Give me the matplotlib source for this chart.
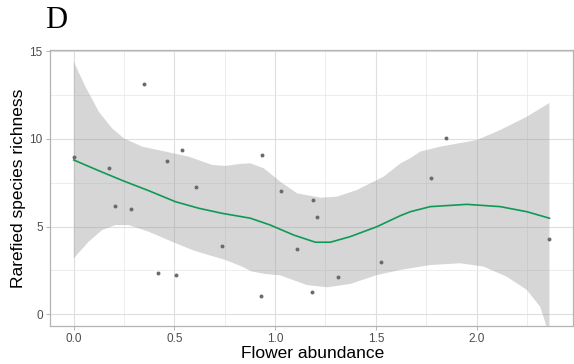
import matplotlib.pyplot as plt
import numpy as np

plt.rcParams['font.family'] = ['Liberation Sans', 'DejaVu Sans']

# observed sites
flower_abundance = [0.0, 0.174, 0.204, 0.284, 0.348, 0.42, 0.463, 0.506, 0.537, 0.607,
                    0.735, 0.932, 0.934, 1.031, 1.108, 1.184, 1.187, 1.21, 1.31, 1.526,
                    1.776, 1.847, 2.362]
richness = [8.97, 8.33, 6.20, 6.02, 13.12, 2.34, 8.73, 2.22, 9.39, 7.24,
            3.90, 1.03, 9.07, 7.02, 3.73, 1.25, 6.52, 5.53, 2.14, 3.00,
            7.78, 10.06, 4.31]

# smoother fit
fit_x = [0.0, 0.124, 0.248, 0.372, 0.505, 0.62, 0.736, 0.877, 0.976, 1.092,
         1.2, 1.274, 1.373, 1.506, 1.621, 1.671, 1.77, 1.952, 2.118, 2.25, 2.362]
fit_y = [8.80, 8.19, 7.60, 7.05, 6.42, 6.05, 5.76, 5.48, 5.09, 4.52,
         4.11, 4.11, 4.43, 5.00, 5.62, 5.85, 6.14, 6.27, 6.14, 5.85, 5.48]

# confidence band
upper_x = [0.0, 0.058, 0.124, 0.19, 0.248, 0.34, 0.455, 0.571, 0.687, 0.753, 0.819,
           0.877, 0.943, 1.026, 1.109, 1.224, 1.307, 1.406, 1.539, 1.621, 1.671,
           1.721, 1.82, 2.002, 2.118, 2.25, 2.362]
upper_y = [14.41, 12.98, 11.56, 10.61, 10.04, 9.56, 9.28, 8.99, 8.52, 8.46, 8.57,
           8.61, 8.33, 7.56, 6.90, 6.65, 6.71, 7.09, 7.85, 8.60, 8.90,
           9.28, 9.56, 9.94, 10.51, 11.27, 12.05]
lower_x = [0.0, 0.074, 0.141, 0.207, 0.273, 0.372, 0.488, 0.588, 0.67, 0.753, 0.836,
           0.881, 0.95, 1.026, 1.158, 1.258, 1.373, 1.506, 1.621, 1.77, 1.919, 2.035,
           2.151, 2.25, 2.316, 2.362]
lower_y = [3.19, 4.14, 4.81, 5.09, 5.09, 4.71, 4.14, 3.67, 3.38, 3.10, 2.72,
           2.45, 2.30, 2.22, 1.67, 1.54, 1.73, 2.24, 2.53, 2.81, 2.91, 2.72,
           2.14, 1.39, 0.43, -1.2]

fig = plt.figure(figsize=(5.74, 3.64), dpi=100)
ax = fig.add_axes([50 / 574, 1 - 325.7 / 364, 523 / 574, 276 / 364])

ax.set_xlim(-0.118, 2.479)
ax.set_ylim(-0.65, 15.09)
ax.set_xticks([0, 0.5, 1.0, 1.5, 2.0])
ax.set_xticklabels(['0.0', '0.5', '1.0', '1.5', '2.0'])
ax.set_yticks([0, 5, 10, 15])
ax.set_xticks([0.25, 0.75, 1.25, 1.75, 2.25], minor=True)
ax.set_yticks([2.5, 7.5, 12.5], minor=True)

ax.grid(which='major', color='#DEDEDE', lw=0.8, zorder=0)
ax.grid(which='minor', color='#E6E6E6', lw=0.5, zorder=0)
ax.set_axisbelow(True)
for s in ax.spines.values():
    s.set_color('#B3B3B3')
    s.set_linewidth(0.9)
ax.tick_params(which='major', length=3.2, width=0.7, color='#B3B3B3',
               labelsize=8.5, labelcolor='#4D4D4D', pad=2)
ax.tick_params(which='minor', length=0)

# band as one polygon so it is clipped at the panel edge
poly_x = np.concatenate([upper_x, lower_x[::-1]])
poly_y = np.concatenate([upper_y, lower_y[::-1]])
ax.fill(poly_x, poly_y, color='#999999', alpha=0.4, lw=0, zorder=2)
ax.plot(fit_x, fit_y, color='#0E9A56', lw=1.2, zorder=3)
ax.scatter(flower_abundance, richness, s=8, color='#6A6A6A', lw=0, zorder=4)

fig.text(19 / 574, 1 - 188 / 364, 'Rarefied species richness', rotation=90,
         ha='center', va='center', fontsize=12.5)
fig.text(313 / 574, 1 - 353 / 364, 'Flower abundance', ha='center', va='center',
         fontsize=12.5)
fig.text(45 / 574, 1 - 28.5 / 364, 'D', family='Liberation Serif', fontsize=22,
         ha='left', va='baseline')

fig.savefig('out.png', dpi=100)
